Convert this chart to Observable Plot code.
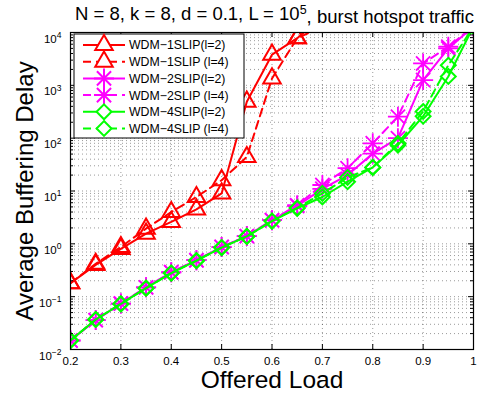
<!DOCTYPE html>
<html><head><meta charset="utf-8">
<script src="https://cdn.jsdelivr.net/npm/d3@7"></script>
<script src="https://cdn.jsdelivr.net/npm/@observablehq/plot@0.6"></script>
<style>
body{margin:0;background:#fff;}
svg{font-family:"Liberation Sans",Arial,Helvetica,sans-serif;}
</style>
</head><body><div id="chart"></div>
<script>
// ---- data ----
const load = [0.2,0.25,0.3,0.35,0.4,0.45,0.5,0.55,0.6,0.65,0.7,0.75,0.8,0.85,0.9,0.95,1.0];
const wdm1slipL2 = [0.18,0.40,0.80,1.56,2.6,4.5,9,490,3800,7800,20000];
const wdm1slipL4 = [0.18,0.42,0.87,1.94,4.0,7.7,16,44,1350,7800,13000];
const wdm2slipL2 = [0.0148,0.036,0.074,0.15,0.29,0.49,0.87,1.4,2.8,5.2,11,20,51,100,1260,5000,13000];
const wdm2slipL4 = [0.0148,0.036,0.074,0.15,0.29,0.49,0.87,1.4,2.8,5.4,13,27,80,255,2600,5400,13000];
const wdm4slipL2 = [0.0148,0.037,0.073,0.145,0.28,0.48,0.85,1.38,2.7,4.7,7.7,15,28,74,260,1470,13000];
const wdm4slipL4 = [0.0148,0.037,0.073,0.145,0.28,0.48,0.85,1.38,2.7,4.8,9,18,28,80,320,2400,13000];
const seriesNames = ["WDM\u22121SLIP(l=2)","WDM\u22121SLIP (l=4)","WDM\u22122SLIP(l=2)","WDM\u22122SLIP (l=4)","WDM\u22124SLIP(l=2)","WDM\u22124SLIP (l=4)"];
const seriesValues = [wdm1slipL2,wdm1slipL4,wdm2slipL2,wdm2slipL4,wdm4slipL2,wdm4slipL4];
const xTicks = [0.2,0.3,0.4,0.5,0.6,0.7,0.8,0.9,1];
const xTickLabels = ["0.2","0.3","0.4","0.5","0.6","0.7","0.8","0.9","1"];
const yTicks = [1e-2,1e-1,1e0,1e1,1e2,1e3,1e4];
const yTickExponents = ["\u22122","\u22121","0","1","2","3","4"];
const titleMain = "N = 8, k = 8, d = 0.1, L = 10";
const titleSup = "5";
const titleRest = ", burst hotspot traffic";
const xLabel = "Offered Load";
const yLabel = "Average Buffering Delay";

// ---- styles ----
const styles = [
  {color:"#ff0000", dash:null, sym:"triangle", r:6.5},
  {color:"#ff0000", dash:"8,5", sym:"triangle", r:6.5},
  {color:"#ff00ff", dash:null, sym:"star", r:6.5},
  {color:"#ff00ff", dash:"8,5", sym:"star", r:6.5},
  {color:"#00ff00", dash:null, sym:"diamond2", r:6.7},
  {color:"#00ff00", dash:"8,5", sym:"diamond2", r:6.7}
];

const W = 492, H = 396, mL = 70, mR = 19, mT = 32, mB = 47;
const fw = W - mL - mR, fh = H - mT - mB;

const minorY = [];
for (let e = -2; e <= 3; e++) for (let m = 1; m <= 9; m++) minorY.push(m * Math.pow(10, e));
minorY.push(1e4);

const marks = [];
const gridStyle = {stroke:"#000", strokeOpacity:0.5, strokeWidth:0.8, strokeDasharray:"1,3"};
marks.push(Plot.ruleY(minorY.slice(1, -1), gridStyle));
marks.push(Plot.ruleX(xTicks.slice(1, -1), gridStyle));

seriesValues.forEach((vals, i) => {
  const st = styles[i];
  const rows = vals.map((v, j) => ({x: load[j], y: v}));
  marks.push(Plot.line(rows, {x:"x", y:"y", stroke:st.color, strokeWidth:2, strokeDasharray:st.dash, clip:true}));
  if (st.sym === "star") {
    marks.push(Plot.dot(rows, {x:"x", y:"y", symbol:"plus", r:st.r, stroke:st.color, strokeWidth:1.8, clip:true}));
    marks.push(Plot.dot(rows, {x:"x", y:"y", symbol:"times", r:st.r, stroke:st.color, strokeWidth:1.8, clip:true}));
  } else {
    marks.push(Plot.dot(rows, {x:"x", y:"y", symbol:st.sym, r:st.r, stroke:st.color, strokeWidth:2, fill:"none", clip:true}));
  }
});

// tick marks inside the frame
const minorTickY = minorY.filter(v => !yTicks.includes(v));
marks.push(Plot.ruleY(yTicks, {stroke:"#000", insetRight: fw - 5}));
marks.push(Plot.ruleY(yTicks, {stroke:"#000", insetLeft: fw - 5}));
marks.push(Plot.ruleY(minorTickY, {stroke:"#000", insetRight: fw - 3}));
marks.push(Plot.ruleY(minorTickY, {stroke:"#000", insetLeft: fw - 3}));
marks.push(Plot.ruleX(xTicks, {stroke:"#000", insetTop: fh - 5}));
marks.push(Plot.ruleX(xTicks, {stroke:"#000", insetBottom: fh - 5}));
marks.push(Plot.frame({stroke:"#000", strokeWidth:1.2}));

marks.push(Plot.axisX({ticks:xTicks, tickSize:0, tickPadding:7, fontSize:11.5, tickFormat:(d)=>xTickLabels[xTicks.indexOf(d)], label:null}));
marks.push(Plot.axisY({ticks:yTicks, tickSize:0, tickPadding:9, fontSize:11.5, tickFormat:d=>yTickExponents[yTicks.indexOf(d)], label:null}));
marks.push(Plot.text([xLabel], {text:d=>d, frameAnchor:"bottom", dy:31, fontSize:24.5, lineAnchor:"middle", textAnchor:"middle", fill:"#000"}));
marks.push(Plot.text([yLabel], {text:d=>d, frameAnchor:"left", dx:-45, rotate:-90, fontSize:24, lineAnchor:"middle", textAnchor:"middle", fill:"#000"}));

const chart = Plot.plot({
  width:W, height:H, marginLeft:mL, marginRight:mR, marginTop:mT, marginBottom:mB,
  style:{fontFamily:'"Liberation Sans", Arial, sans-serif', color:"#000", background:"#fff"},
  x:{domain:[0.2,1]},
  y:{type:"log", domain:[1e-2,1e4]},
  marks
});
document.getElementById("chart").appendChild(chart);

const svg = d3.select(chart);
// superscript y tick labels
svg.selectAll('g[aria-label="y-axis tick label"] text').each(function(){
  const t = d3.select(this);
  const ex = t.text();
  t.text(null).attr("dy", "0.55em");
  t.append("tspan").text("10");
  t.append("tspan").attr("dy","-0.55em").attr("font-size","8.5px").text(ex);
});

// title
const tt = svg.append("text").attr("x", mL + fw/2 + 3).attr("y", 20).attr("text-anchor","middle")
  .attr("font-size","18.5px").attr("fill","#000");
tt.append("tspan").text(titleMain);
tt.append("tspan").attr("dy","-0.5em").attr("font-size","12.5px").text(titleSup);
tt.append("tspan").attr("dy","0.5em").text(titleRest);

// legend
const lg = svg.append("g").attr("transform", `translate(74,34)`);
lg.append("rect").attr("width",170).attr("height",104).attr("fill","#fff").attr("stroke","#000").attr("stroke-width",1);
seriesNames.forEach((name, i) => {
  const st = styles[i];
  const y = 11 + i * 16.7;
  lg.append("line").attr("x1",9).attr("x2",51).attr("y1",y).attr("y2",y)
    .attr("stroke",st.color).attr("stroke-width",2).attr("stroke-dasharray",st.dash);
  const size = Math.PI * st.r * st.r;
  const syms = st.sym === "star" ? [d3.symbolPlus, d3.symbolTimes] :
    [st.sym === "triangle" ? d3.symbolTriangle : d3.symbolDiamond2];
  syms.forEach(s => {
    lg.append("path").attr("d", d3.symbol(s, size)()).attr("transform",`translate(30,${y})`)
      .attr("fill", st.sym === "star" ? "none" : "#fff").attr("stroke",st.color).attr("stroke-width",2);
  });
  lg.append("text").attr("x",55).attr("y",y).attr("dy","0.36em").attr("text-anchor","start")
    .attr("font-size","12.3px").attr("fill","#000").text(name);
});
</script>
</body></html>
